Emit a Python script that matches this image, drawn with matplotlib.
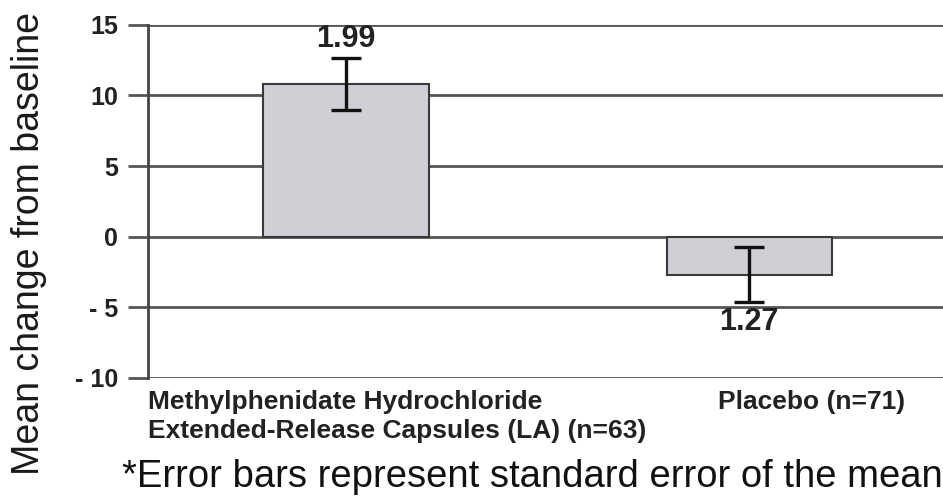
import numpy as np
import matplotlib
matplotlib.use("Agg")
import matplotlib.pyplot as plt

plt.rcParams['font.family'] = ['Liberation Sans', 'DejaVu Sans']

# data
groups = ["Methylphenidate Hydrochloride\nExtended-Release Capsules (LA) (n=63)", "Placebo (n=71)"]
means = [10.8, -2.7]
errs = [1.85, 1.95]
err_labels = ["1.99", "1.27"]
yticks = [-10, -5, 0, 5, 10, 15]
ytick_labels = ["- 10", "- 5", "0", "5", "10", "15"]

fig = plt.figure(figsize=(9.43, 4.96), dpi=100)
ax = fig.add_axes([0.157, 0.238, 0.843, 0.712])

x = np.arange(len(groups))
ax.bar(x, means, width=0.41, color="#cfcfd5", edgecolor="#3a3a3a", linewidth=1.5, zorder=3)
ax.errorbar(x, means, yerr=errs, fmt="none", ecolor="#111111", elinewidth=2.4,
            capsize=11, capthick=2.4, zorder=4)

for i in range(len(groups)):
    if means[i] >= 0:
        ax.text(x[i], means[i] + errs[i] + 0.3, err_labels[i], ha="center", va="bottom",
                fontsize=22, fontweight="bold", color="#222222")
    else:
        ax.text(x[i], means[i] - errs[i] - 0.3, err_labels[i], ha="center", va="top",
                fontsize=22, fontweight="bold", color="#222222")

ax.set_ylim(-10, 15)
ax.set_xlim(-0.49, 1.48)
ax.set_yticks(yticks)
ax.set_yticklabels(ytick_labels, fontsize=18, fontweight="bold", color="#222222")
ax.yaxis.grid(True, color="#555555", linewidth=2)
ax.set_axisbelow(True)
ax.tick_params(axis="y", length=14.4, width=2, color="#555555", pad=7)
ax.set_xticks([])
for s in ["top", "right", "bottom"]:
    ax.spines[s].set_visible(False)
ax.spines["left"].set_linewidth(2)
ax.spines["left"].set_color("#444444")

# category labels below the axis
ax.text(0.0, -0.035, groups[0], transform=ax.transAxes, ha="left", va="top",
        fontsize=19, fontweight="bold", linespacing=1.25, color="#222222")
ax.text(0.835, -0.035, groups[1], transform=ax.transAxes, ha="center", va="top",
        fontsize=19, fontweight="bold", color="#222222")

fig.text(0.031, 0.51, "Mean change from baseline", rotation=90, fontsize=27,
         ha="center", va="center", color="#1a1a1a")
fig.text(0.129, 0.018, "*Error bars represent standard error of the mean",
         fontsize=27.5, ha="left", va="baseline", color="#111111")

fig.savefig("out.png", dpi=100)
